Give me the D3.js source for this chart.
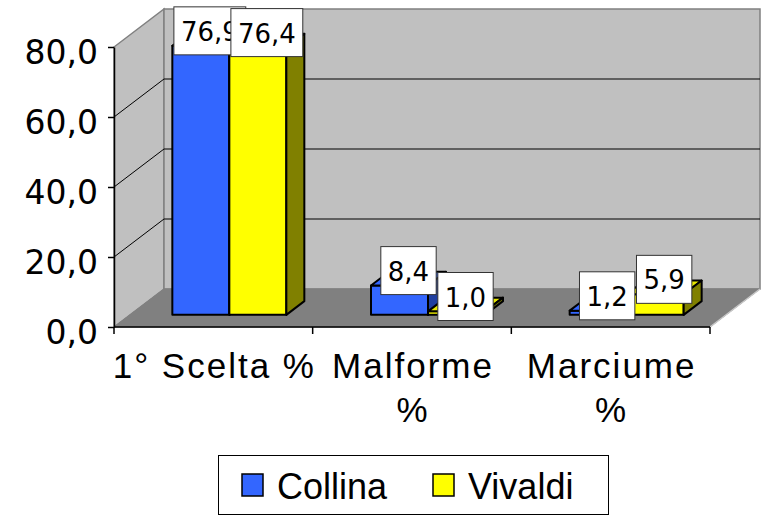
<!DOCTYPE html>
<html>
<head>
<meta charset="utf-8">
<script src="https://cdn.jsdelivr.net/npm/d3@7"></script>
<style>
  html, body { margin: 0; padding: 0; background: #fff; }
  svg { display: block; }
</style>
</head>
<body>
<svg id="chart" width="765" height="516"></svg>
<script>
// ---- data ----
const categories = ["1° Scelta %", "Malforme %", "Marciume %"];
const categoryLines = [["1° Scelta %"], ["Malforme", "%"], ["Marciume", "%"]];
const seriesNames = ["Collina", "Vivaldi"];
const collina = [76.9, 8.4, 1.2];
const vivaldi = [76.4, 1.0, 5.9];
const dataLabels = [["76,9", "8,4", "1,2"], ["76,4", "1,0", "5,9"]];
const yTicks = [0, 20, 40, 60, 80];
const yTickLabels = ["0,0", "20,0", "40,0", "60,0", "80,0"];

// ---- styles ----
const colors = [
  { front: "#3366ff", top: "#3366ff", side: "#203fa0" },
  { front: "#ffff00", top: "#e6e600", side: "#808000" }
];

const svg = d3.select("#chart");

// scales
const y = d3.scaleLinear().domain([0, 80]).range([327, 47]);
const x0 = d3.scaleBand().domain(categories).range([114, 710]).padding(0);
const groupW = 114;
const x1 = d3.scaleBand().domain(seriesNames).range([0, groupW]).padding(0);
const depthX = d3.scaleLinear().domain([0, 1]).range([0, 50]);
const depthY = d3.scaleLinear().domain([0, 1]).range([0, -38]);
const dFront = 0.32, dBack = 0.68;

const plotL = 114, plotR = 710, yTop = y(80), yBot = y(0);
const DX = depthX(1), DY = depthY(1);

// ---- walls ----
const walls = svg.append("g");
walls.append("polygon")
  .attr("points", [[plotL, yBot], [plotL, yTop], [plotL + DX, yTop + DY], [plotL + DX, yBot + DY]].join(" "))
  .attr("fill", "#c0c0c0").attr("stroke", "#808080").attr("stroke-width", 1.5);
walls.append("polygon")
  .attr("points", [[plotL + DX, yBot + DY], [plotL + DX, yTop + DY], [plotR + DX, yTop + DY], [plotR + DX, yBot + DY]].join(" "))
  .attr("fill", "#c0c0c0").attr("stroke", "#808080").attr("stroke-width", 1.5);
walls.append("polygon")
  .attr("points", [[plotL, yBot], [plotR, yBot], [plotR + DX, yBot + DY], [plotL + DX, yBot + DY]].join(" "))
  .attr("fill", "#808080").attr("stroke", "#808080").attr("stroke-width", 1);
walls.append("line")
  .attr("x1", plotR).attr("y1", yBot).attr("x2", plotR + DX).attr("y2", yBot + DY)
  .attr("stroke", "#c8c8c8").attr("stroke-width", 1.5);

// gridlines
const grid = svg.append("g");
yTicks.filter(t => t > 0 && t < 80).forEach(t => {
  grid.append("line")
    .attr("x1", plotL).attr("y1", y(t)).attr("x2", plotL + DX).attr("y2", y(t) + DY)
    .attr("stroke", "#000").attr("stroke-width", 1);
  grid.append("line")
    .attr("x1", plotL + DX).attr("y1", y(t) + DY).attr("x2", plotR + DX).attr("y2", y(t) + DY)
    .attr("stroke", "#000").attr("stroke-width", 1);
});

// ---- axes ----
const yAxis = d3.axisLeft(y).tickValues(yTicks).tickSize(6).tickSizeOuter(0).tickPadding(10)
  .tickFormat((d, i) => yTickLabels[i]);
const gy = svg.append("g").attr("transform", `translate(${plotL},0)`).call(yAxis);
gy.select(".domain").attr("stroke", "#000").attr("stroke-width", 1.5);
gy.selectAll(".tick line").attr("stroke", "#000").attr("stroke-width", 1.5);
gy.selectAll(".tick text")
  .attr("font-family", "DejaVu Sans, Verdana, sans-serif").attr("font-size", 33)
  .attr("fill", "#000").attr("dy", "16px");

const gx = svg.append("g");
gx.append("line").attr("x1", plotL).attr("x2", plotR).attr("y1", yBot).attr("y2", yBot)
  .attr("stroke", "#000").attr("stroke-width", 1.5);
const boundaries = categories.map(c => x0(c)).concat([x0.range()[1]]);
gx.selectAll("line.tk").data(boundaries).enter().append("line")
  .attr("x1", d => d).attr("x2", d => d).attr("y1", yBot).attr("y2", yBot + 7)
  .attr("stroke", "#000").attr("stroke-width", 1.5);

categories.forEach((c, i) => {
  const t = gx.append("text")
    .attr("x", x0(c) + x0.bandwidth() / 2)
    .attr("text-anchor", "middle")
    .attr("font-family", "Liberation Sans, Arial, sans-serif")
    .attr("font-size", 35).attr("letter-spacing", 2).attr("fill", "#000");
  categoryLines[i].forEach((ln, j) => {
    t.append("tspan").attr("x", x0(c) + x0.bandwidth() / 2 + 1).attr("y", 378 + j * 44).text(ln);
  });
});

// ---- bars ----
const seriesValues = [collina, vivaldi];
const fx = depthX(dFront), fy = depthY(dFront), bx = depthX(dBack), by = depthY(dBack);
const barsG = svg.append("g");
const labelInfo = [];
categories.forEach((c, ci) => {
  seriesNames.forEach((s, si) => {
    const v = seriesValues[si][ci];
    const xa = x0(c) + (x0.bandwidth() - groupW) / 2 + x1(s);
    const xb = xa + x1.bandwidth();
    const yt = y(v), yb = y(0);
    const col = colors[si];
    const g = barsG.append("g").attr("stroke", "#000").attr("stroke-width", 2).attr("stroke-linejoin", "round");
    g.append("polygon").attr("points", [[xa + fx, yt + fy], [xb + fx, yt + fy], [xb + fx, yb + fy], [xa + fx, yb + fy]].join(" "))
      .attr("fill", col.front);
    g.append("polygon").attr("points", [[xa + fx, yt + fy], [xb + fx, yt + fy], [xb + bx, yt + by], [xa + bx, yt + by]].join(" "))
      .attr("fill", col.top);
    g.append("polygon").attr("points", [[xb + fx, yt + fy], [xb + bx, yt + by], [xb + bx, yb + by], [xb + fx, yb + fy]].join(" "))
      .attr("fill", col.side);
    labelInfo.push({ cx: (xa + fx + xb + bx) / 2, cy: (yt + fy + yt + by) / 2 - 8, text: dataLabels[si][ci] });
  });
});

// ---- data labels ----
const lblG = svg.append("g");
labelInfo.forEach(l => {
  const g = lblG.append("g");
  const rect = g.append("rect").attr("fill", "#fff").attr("stroke", "#333").attr("stroke-width", 1);
  const t = g.append("text").attr("x", l.cx).attr("y", l.cy + 10)
    .attr("text-anchor", "middle").attr("font-family", "DejaVu Sans, Verdana, sans-serif")
    .attr("font-size", 26).attr("fill", "#000").text(l.text);
  const w = t.node().getComputedTextLength() + 14;
  rect.attr("x", l.cx - w / 2).attr("y", l.cy - 24).attr("width", w).attr("height", 48);
});

// ---- legend ----
const leg = svg.append("g");
leg.append("rect").attr("x", 218.5).attr("y", 455.5).attr("width", 390).attr("height", 59)
  .attr("fill", "#fff").attr("stroke", "#000").attr("stroke-width", 1);
const legX = [242, 433];
seriesNames.forEach((s, i) => {
  leg.append("rect").attr("x", legX[i]).attr("y", 474).attr("width", 21).attr("height", 22)
    .attr("fill", colors[i].front).attr("stroke", "#000").attr("stroke-width", 1.5);
  leg.append("text").attr("x", legX[i] + 35).attr("y", 499)
    .attr("font-family", "Liberation Sans, Arial, sans-serif").attr("font-size", 36).attr("fill", "#000")
    .text(s);
});
</script>
</body>
</html>
